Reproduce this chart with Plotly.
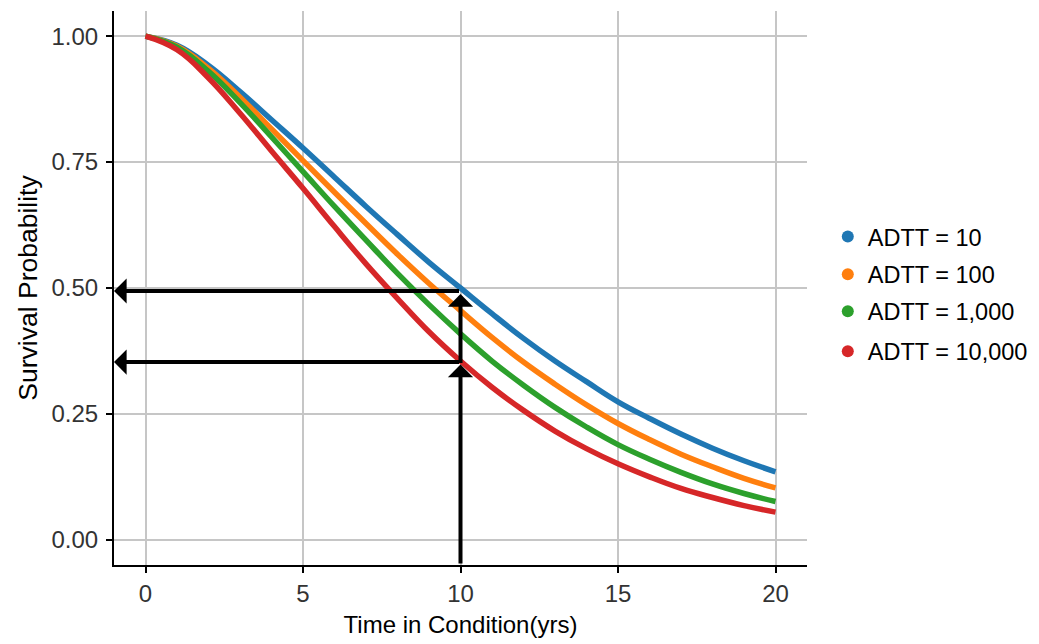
import plotly.graph_objects as go

# ---- data ----
time_yrs = list(range(0, 21))
adtt_10 = [1.000, 0.982, 0.942, 0.890, 0.834, 0.778, 0.720, 0.662, 0.606, 0.551, 0.500,
           0.449, 0.400, 0.355, 0.314, 0.274, 0.241, 0.210, 0.182, 0.157, 0.135]
adtt_100 = [1.000, 0.980, 0.936, 0.879, 0.816, 0.753, 0.690, 0.628, 0.567, 0.509, 0.455,
            0.402, 0.353, 0.309, 0.268, 0.231, 0.199, 0.170, 0.145, 0.122, 0.103]
adtt_1000 = [1.000, 0.978, 0.930, 0.868, 0.800, 0.731, 0.662, 0.595, 0.529, 0.467, 0.409,
             0.355, 0.307, 0.263, 0.224, 0.189, 0.160, 0.134, 0.111, 0.092, 0.076]
adtt_10000 = [1.000, 0.973, 0.917, 0.847, 0.772, 0.698, 0.622, 0.548, 0.479, 0.413, 0.355,
              0.303, 0.257, 0.216, 0.181, 0.151, 0.125, 0.102, 0.084, 0.068, 0.055]

series_names = ["ADTT = 10", "ADTT = 100", "ADTT = 1,000", "ADTT = 10,000"]
series_values = [adtt_10, adtt_100, adtt_1000, adtt_10000]
series_colors = ["#1f77b4", "#ff7f0e", "#2ca02c", "#d62728"]

x_ticks = [0, 5, 10, 15, 20]
y_ticks = [0.0, 0.25, 0.5, 0.75, 1.0]
y_tick_labels = ["0.00", "0.25", "0.50", "0.75", "1.00"]

# arrow geometry (data units): vertical at t=10, horizontal to left axis
t_mark = 10
p_low = 0.355
p_high = 0.5

FONT = "Liberation Sans, Arial, sans-serif"

fig = go.Figure()

legend_keys = ["legend", "legend2", "legend3", "legend4"]
legend_y = [0.5925, 0.5245, 0.4575, 0.3855]

for name, vals, col, lk in zip(series_names, series_values, series_colors, legend_keys):
    fig.add_trace(go.Scatter(
        x=time_yrs, y=vals, mode="lines",
        line=dict(color=col, width=5.5, shape="spline", smoothing=1.2),
        showlegend=False, hoverinfo="skip"))
    fig.add_trace(go.Scatter(
        x=[None], y=[None], mode="markers", name=name,
        marker=dict(color=col, size=10), legend=lk, showlegend=True))

# arrows
arrow_style = dict(showarrow=True, arrowhead=1, arrowsize=1.05, arrowwidth=4,
                   arrowcolor="black", axref="x", ayref="y", xref="x", yref="y", text="")
fig.add_annotation(x=t_mark, y=p_low - 0.007, ax=t_mark, ay=-0.05, **arrow_style)
fig.add_annotation(x=t_mark, y=p_high - 0.012, ax=t_mark, ay=p_low - 0.007, **arrow_style)
fig.add_annotation(x=-1, y=p_high - 0.006, ax=t_mark, ay=p_high - 0.006, **arrow_style)
fig.add_annotation(x=-1, y=p_low - 0.002, ax=t_mark, ay=p_low - 0.002, **arrow_style)

axis_common = dict(
    showgrid=True, gridcolor="#c6c6c6", gridwidth=2, zeroline=False,
    showline=True, linecolor="black", linewidth=2,
    ticks="outside", ticklen=6, tickwidth=2, tickcolor="black",
    tickfont=dict(family=FONT, size=24, color="#333333"),
)

fig.update_xaxes(range=[-1, 21], tickvals=x_ticks, ticktext=[str(v) for v in x_ticks],
                 title=dict(text="Time in Condition(yrs)", font=dict(family=FONT, size=24, color="black"),
                            standoff=10),
                 **axis_common)
fig.update_yaxes(range=[-0.05, 1.05], tickvals=y_ticks, ticktext=y_tick_labels,
                 ticklabelstandoff=3,
                 title=dict(text="Survival Probability", font=dict(family=FONT, size=26.5, color="black"),
                            standoff=6),
                 **axis_common)

legend_common = dict(x=1.03, xanchor="left", yanchor="middle", bgcolor="rgba(0,0,0,0)",
                     font=dict(family=FONT, size=23.5, color="black"), itemsizing="constant")
layout_legends = {}
for lk, ly in zip(legend_keys, legend_y):
    layout_legends[lk] = dict(y=ly, **legend_common)

fig.update_layout(
    width=1039, height=644,
    margin=dict(l=114, r=232, t=11, b=79, autoexpand=False),
    plot_bgcolor="white", paper_bgcolor="white",
    font=dict(family=FONT, size=22, color="black"),
    **layout_legends,
)

fig.write_html("out.html")
